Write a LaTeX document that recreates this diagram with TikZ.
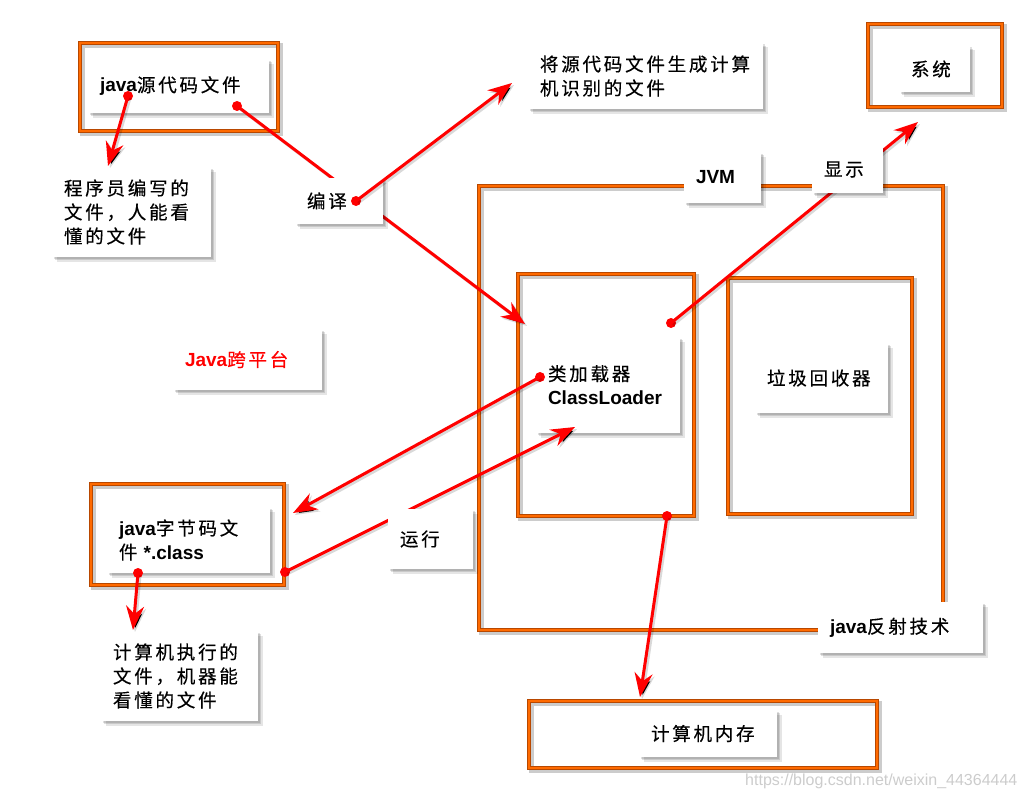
\documentclass[tikz,border=0pt]{standalone}
\usepackage{fontspec}
\setmainfont{Liberation Sans}
\newfontfamily\cjk[LetterSpace=15,FakeBold=0.4]{Noto Sans CJK SC}
\usetikzlibrary{shadows,arrows.meta}
\definecolor{frdark}{HTML}{B84800}
\definecolor{frorange}{HTML}{FF6A00}
\newcommand\en[1]{{\normalfont\fontsize{19}{24}\selectfont\bfseries #1}}
\tikzset{
  frm/.style={rectangle, inner sep=0pt, outer sep=0pt, draw=frdark, line width=4.5pt,
    preaction={draw=black, draw opacity=.2, line width=5pt, transform canvas={xshift=2.5pt, yshift=-2.5pt}},
    postaction={draw=frorange, line width=2pt}},
  box/.style={rectangle, fill=white, inner xsep=12pt, inner ysep=0pt, outer sep=0pt, align=left,
    general shadow={fill=black, opacity=.12, shadow xshift=1.5pt, shadow yshift=-1.5pt},
    general shadow={fill=black, opacity=.12, shadow xshift=3pt, shadow yshift=-3pt},
    general shadow={fill=black, opacity=.10, shadow xshift=4.5pt, shadow yshift=-4.5pt}},
  arr/.style={draw=red, line width=3pt, -{Stealth[length=24pt, width=18pt, inset=8pt]},
    preaction={draw=black, draw opacity=.15, line width=3pt, transform canvas={xshift=2pt, yshift=-2pt}}},
  dotn/.style={circle, fill=red, inner sep=0pt, minimum size=10pt},
}
\begin{document}
\begin{tikzpicture}[x=1pt, y=-1pt, font=\cjk\fontsize{18.5}{24}\selectfont]
\useasboundingbox (0,0) rectangle (1024,800);
% frames
\node[frm, minimum width=198pt, minimum height=88pt] (fsrc) at (179,87) {};
\node[frm, minimum width=134pt, minimum height=83pt] (fsys) at (935,65.5) {};
\node[frm, minimum width=464pt, minimum height=444pt] (fjvm) at (711,408) {};
\node[frm, minimum width=176pt, minimum height=242pt] (fcl) at (606,395) {};
\node[frm, minimum width=184pt, minimum height=236pt] (fgc) at (820,396) {};
\node[frm, minimum width=193pt, minimum height=101pt] (fbc) at (187.5,534.5) {};
\node[frm, minimum width=348pt, minimum height=67pt] (fmem) at (703,734.5) {};
% boxes
\node[box, text width=157pt, minimum height=54pt] (bsrc) at (178.5,86) {\en{java}源代码文件};
\node[box, text width=135pt, minimum height=90pt] (bprog) at (131.5,212) {程序员编写的\\文件，人能看\\懂的文件};
\node[box, text width=211pt, minimum height=66pt] (bgen) at (645.5,76) {将源代码文件生成计算\\机识别的文件};
\node[box, text width=47pt, minimum height=46pt] (bsys) at (934.5,69) {系统};
\node[box, text width=53pt, minimum height=51pt] (bjvm) at (722.5,177.5) {\en{JVM}};
\node[box, text width=120pt, minimum height=96pt] (bcl) at (608,385) {类加载器\\\en{ClassLoader}};
\node[box, text width=109pt, minimum height=70pt] (bgc) at (821.5,378) {垃圾回收器};
\node[box, text width=125pt, minimum height=61pt, text=red] (bjava) at (247.5,359.5) {\en{Java}跨平台};
\node[box, text width=139pt, minimum height=66pt] (bbc) at (188.5,540) {\en{java}字节码文\\件 \en{*.class}};
\node[box, text width=133pt, minimum height=90pt] (bexec) at (179.5,676) {计算机执行的\\文件，机器能\\看懂的文件};
\node[box, text width=141pt, minimum height=51pt] (bref) at (900.5,627.5) {\en{java}反射技术};
\node[box, text width=114pt, minimum height=47pt] (bmem) at (708,733.5) {计算机内存};
% arrow ends
\coordinate (t1) at (108,166);
\coordinate (t2) at (525,324);
\coordinate (t3) at (512,83);
\coordinate (t4) at (918,122);
\coordinate (t5) at (293,513);
\coordinate (t6) at (575,427);
\coordinate (t7) at (133,630);
\coordinate (t8) at (640,697);
% arrows (behind some labels)
\node[dotn] (d1) at (128,96) {};
\node[dotn] (d2) at (237,106) {};
\node[dotn] (d4) at (671,323) {};
\node[dotn] (d5) at (540,377) {};
\node[dotn] (d6) at (285,572) {};
\node[dotn] (d7) at (138,573) {};
\node[dotn] (d8) at (667,516) {};
\draw[arr] (d1.center) -- (t1);
\draw[arr] (d2.center) -- (t2);
\draw[arr] (d4.center) -- (t4);
\draw[arr] (d5.center) -- (t5);
\draw[arr] (d6.center) -- (t6);
\draw[arr] (d7.center) -- (t7);
\draw[arr] (d8.center) -- (t8);
% labels above arrows
\node[box, text width=64pt, minimum height=46pt] (bcomp) at (339,201) {编译};
\node[box, text width=47pt, minimum height=47pt] (bshow) at (847.5,169.5) {显示};
\node[box, text width=61pt, minimum height=60pt] (brun) at (430.5,539) {运行};
\node[dotn] (d3) at (356,201) {};
\draw[arr] (d3.center) -- (t3);
% watermark
\node[anchor=west, text=gray!40, font=\normalfont\fontsize{16}{18}\selectfont, inner sep=0pt] (wm) at (745,781) {https://blog.csdn.net/weixin\_44364444};
\end{tikzpicture}
\end{document}
